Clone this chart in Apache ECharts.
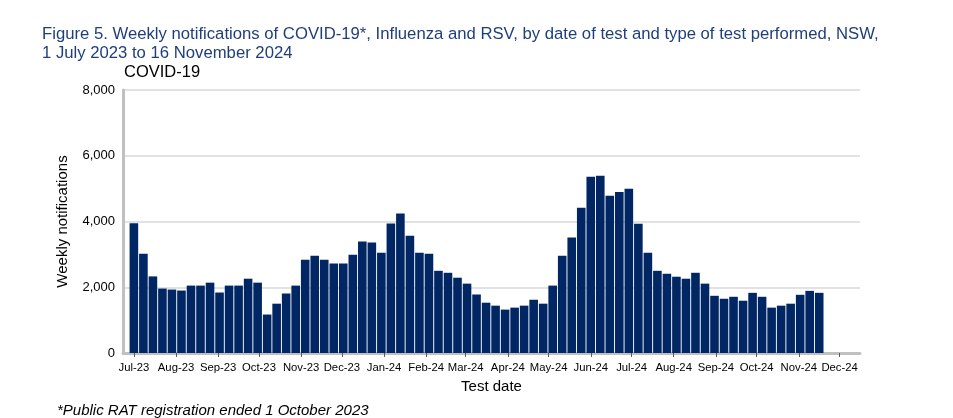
<!DOCTYPE html>
<html>
<head>
<meta charset="utf-8">
<script src="https://cdn.jsdelivr.net/npm/echarts@6/dist/echarts.min.js"></script>
<style>
html,body{margin:0;padding:0;background:#fff;}
#chart{width:953px;height:418px;}
</style>
</head>
<body>
<div id="chart"></div>
<script>
// ---- Data ----
const titleLine1 = 'Figure 5. Weekly notifications of COVID-19*, Influenza and RSV, by date of test and type of test performed, NSW,';
const titleLine2 = '1 July 2023 to 16 November 2024';
const panelTitle = 'COVID-19';
const footnote = '*Public RAT registration ended 1 October 2023';
const yAxisName = 'Weekly notifications';
const xAxisName = 'Test date';

// Weeks (week ending dates, 1 Jul 2023 ... 16 Nov 2024)
const firstWeek = '2023-07-01';
const weeklyNotifications = [
  3950, 3020, 2330, 1960, 1930, 1900, 2050, 2050, 2140, 1840,
  2050, 2050, 2260, 2140, 1170, 1500, 1810, 2050, 2840, 2960,
  2840, 2720, 2720, 2990, 3390, 3360, 3050, 3940, 4240, 3570,
  3050, 3020, 2500, 2440, 2290, 2110, 1780, 1530, 1440, 1320,
  1380, 1440, 1620, 1500, 2050, 2960, 3510, 4420, 5360, 5390,
  4780, 4900, 5000, 3930, 3050, 2500, 2410, 2320, 2260, 2440,
  2110, 1740, 1650, 1710, 1590, 1830, 1710, 1380, 1440, 1500,
  1770, 1890, 1830
];

const monthStarts = [
  '2023-07-01','2023-08-01','2023-09-01','2023-10-01','2023-11-01','2023-12-01',
  '2024-01-01','2024-02-01','2024-03-01','2024-04-01','2024-05-01','2024-06-01',
  '2024-07-01','2024-08-01','2024-09-01','2024-10-01','2024-11-01','2024-12-01'
];
const monthLabels = [
  'Jul-23','Aug-23','Sep-23','Oct-23','Nov-23','Dec-23',
  'Jan-24','Feb-24','Mar-24','Apr-24','May-24','Jun-24',
  'Jul-24','Aug-24','Sep-24','Oct-24','Nov-24','Dec-24'
];
const yTicks = [0, 2000, 4000, 6000, 8000];

// ---- Build ----
const DAY = 86400000;
function utc(s){ const p = s.split('-').map(Number); return Date.UTC(p[0], p[1]-1, p[2]); }
const t0 = utc(firstWeek);
const seriesData = weeklyNotifications.map((v, i) => [t0 + i * 7 * DAY, v]);
const monthValues = monthStarts.map(utc);
const labelMap = {};
monthValues.forEach((t, i) => { labelMap[t] = monthLabels[i]; });

const chart = echarts.init(document.getElementById('chart'), null, {renderer: 'canvas'});
const font = 'Liberation Sans, Arial, sans-serif';
chart.setOption({
  animation: false,
  backgroundColor: '#ffffff',
  textStyle: {fontFamily: font},
  title: [
    {text: titleLine1 + '\n' + titleLine2, left: 42, top: 25, padding: 0,
     textStyle: {fontFamily: font, fontSize: 16.7, fontWeight: 'normal', color: '#1f3e7c', lineHeight: 19}},
    {text: panelTitle, left: 124, top: 64, padding: 0,
     textStyle: {fontFamily: font, fontSize: 16.5, fontWeight: 'normal', color: '#000000'}},
    {text: footnote, left: 57, top: 403, padding: 0,
     textStyle: {fontFamily: font, fontSize: 15, fontWeight: 'normal', fontStyle: 'italic', color: '#000000'}}
  ],
  grid: {left: 123, right: 93, top: 90, bottom: 65, containLabel: false},
  xAxis: {
    type: 'value',
    min: utc('2023-06-23'),
    max: utc('2024-12-16'),
    name: xAxisName,
    nameLocation: 'middle',
    nameGap: 26,
    nameTextStyle: {fontFamily: font, fontSize: 15, color: '#000'},
    axisLine: {show: true, onZero: false, lineStyle: {color: '#c0c0c0', width: 3}},
    axisTick: {show: true, customValues: monthValues, length: 4, lineStyle: {color: '#595959', width: 1}},
    axisLabel: {
      customValues: monthValues,
      formatter: (v) => labelMap[v] || '',
      fontFamily: font, fontSize: 11.3, color: '#000', margin: 9
    },
    splitLine: {show: false}
  },
  yAxis: {
    type: 'value',
    min: 0, max: 8000, interval: 2000,
    name: yAxisName,
    nameLocation: 'middle',
    nameGap: 53,
    nameRotate: 90,
    nameTextStyle: {fontFamily: font, fontSize: 15, color: '#000'},
    axisLine: {show: true, lineStyle: {color: '#c0c0c0', width: 3}},
    axisTick: {show: false},
    axisLabel: {
      fontFamily: font, fontSize: 13, color: '#000', margin: 8,
      formatter: (v) => yTicks.includes(v) ? v.toLocaleString('en-US') : ''
    },
    splitLine: {show: true, lineStyle: {color: '#d9d9d9', width: 1.5}}
  },
  series: [{
    type: 'bar',
    data: seriesData,
    barWidth: 8.6,
    itemStyle: {color: '#002664'},
    z: 1
  }]
});
</script>
</body>
</html>
